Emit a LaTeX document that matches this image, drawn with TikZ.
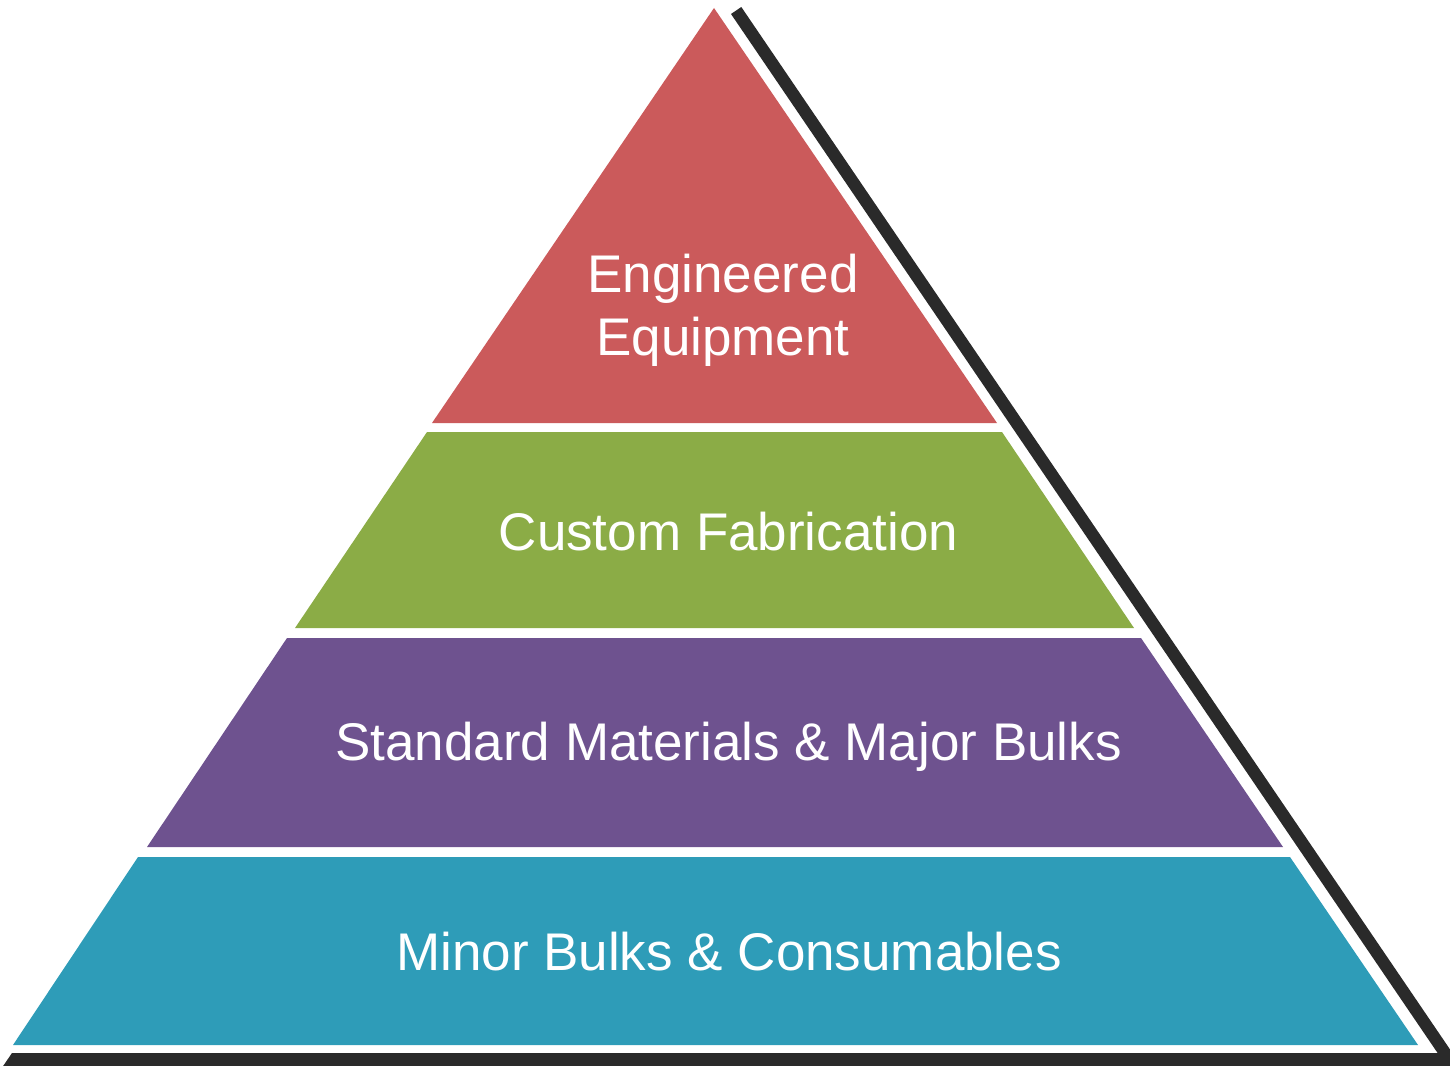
\documentclass[tikz,border=0pt]{standalone}
\usepackage{fontspec}
\setmainfont{Liberation Sans}
\definecolor{lred}{HTML}{CB5A5B}
\definecolor{lgreen}{HTML}{8BAC46}
\definecolor{lpurple}{HTML}{6E528F}
\definecolor{lteal}{HTML}{2E9CB8}
\definecolor{shadowc}{HTML}{2A2A2A}
\begin{document}
\begin{tikzpicture}[x=1pt,y=-1pt,
  lbl/.style={text=white,anchor=base,inner sep=0pt,font=\fontsize{53}{63}\selectfont,align=center}]
\useasboundingbox (0,0) rectangle (1450,1065);
\begin{scope}
\clip (0,0) rectangle (1450,1065);
% shadow outline
\fill[shadowc] (731,14) -- (741.3,7) -- (1464,1070) -- (0.4,1070) -- (12,1053) -- (1437.6,1053) -- cycle;
\end{scope}
% layers
\fill[lred] (714,8) -- (997,423) -- (432,423) -- cycle;
\fill[lgreen] (427,432) -- (1002,432) -- (1134,628) -- (295,628) -- cycle;
\fill[lpurple] (287,638) -- (1141,638) -- (1283,847) -- (147,847) -- cycle;
\fill[lteal] (138,857) -- (1290,857) -- (1418,1045) -- (13,1045) -- cycle;
% labels
\node[lbl] (eng) at (723,292) {Engineered};
\node[lbl] (equ) at (723,355) {Equipment};
\node[lbl] (cus) at (728.5,550) {Custom Fabrication};
\node[lbl] (std) at (728.5,760) {Standard Materials \& Major Bulks};
\node[lbl] (min) at (729,970) {Minor Bulks \& Consumables};
\end{tikzpicture}
\end{document}
